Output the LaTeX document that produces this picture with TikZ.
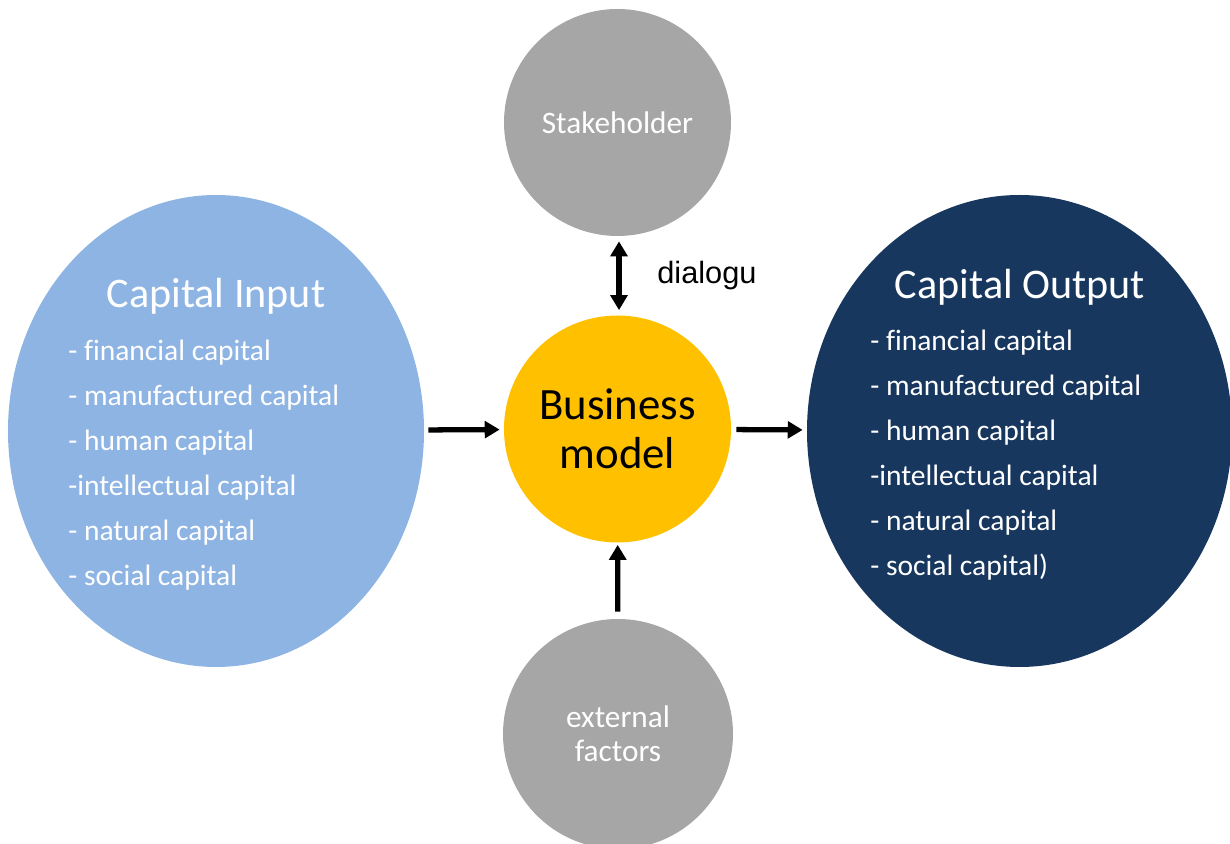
\documentclass[tikz,border=0pt]{standalone}
\usepackage{fontspec}
\setmainfont{Carlito}[Ligatures=NoCommon]
\newfontfamily\arialfont{Liberation Sans}
\usepackage{tikz}
\usetikzlibrary{shapes.geometric, arrows.meta, positioning}
\definecolor{inputblue}{HTML}{8EB4E3}
\definecolor{outputnavy}{HTML}{17375E}
\definecolor{modelyellow}{HTML}{FFC000}
\definecolor{sidegray}{HTML}{A6A6A6}

\tikzset{
  blob/.style={draw=none, inner sep=0pt, text=white, align=center},
  capline/.style={anchor=west, inner sep=0pt, text=white, font=\fontsize{16.8}{20}\selectfont},
  flow/.style={line width=3pt, -{Triangle[length=8.5pt, width=9.5pt]}},
}

\begin{document}
\begin{tikzpicture}
  \useasboundingbox (0,0) rectangle (24.6,16.86);

  % the four bubbles round the business model
  \node[blob, ellipse, fill=inputblue, minimum width=8.32cm, minimum height=9.44cm] (input) at (4.32,8.24) {};
  \node[blob, ellipse, fill=outputnavy, minimum width=8.5cm, minimum height=9.44cm] (output) at (20.39,8.24) {};
  \node[blob, circle, fill=sidegray, minimum size=4.54cm, font=\fontsize{17.8}{20}\selectfont] (stake) at (12.35,14.41) {Stakeholder};
  \node[blob, circle, fill=sidegray, minimum size=4.6cm, font=\fontsize{17.8}{19.3}\selectfont] (extern) at (12.36,2.18) {external\\factors};
  \node[blob, circle, fill=modelyellow, minimum size=4.54cm, text=black, font=\fontsize{25.5}{28}\selectfont] (model) at (12.35,8.28) {Business\\model};

  \node[inner sep=0pt, text=white, font=\fontsize{24}{28}\selectfont] (intitle) at (4.32,10.94) {Capital Input};
  \node[inner sep=0pt, text=white, font=\fontsize{24}{28}\selectfont] (outtitle) at (20.4,11.12) {Capital Output};

  % capital lists
  \foreach \i/\cap in {0/- financial capital, 1/- manufactured capital, 2/- human capital,
                       3/-intellectual capital, 4/- natural capital, 5/- social capital}{
    \node[capline] (in\i) at (1.36,9.81-0.9*\i) {\cap};
  }
  \foreach \i/\cap in {0/- financial capital, 1/- manufactured capital, 2/- human capital,
                       3/-intellectual capital, 4/- natural capital, 5/- social capital)}{
    \node[capline] (out\i) at (17.4,10.01-0.9*\i) {\cap};
  }

  % arrows
  \draw[flow, shorten <=0.08cm, shorten >=0.08cm] (input) -- (model);
  \draw[flow, shorten <=0.1cm, shorten >=0.08cm] (model) -- (output);
  \draw[flow, {Triangle[length=8.5pt, width=9.5pt]}-{Triangle[length=8.5pt, width=9.5pt]},
        shorten <=0.1cm, shorten >=0.1cm] ([xshift=0.03cm]stake.south) -- ([xshift=0.03cm]model.north);
  \draw[flow, shorten <=0.14cm, shorten >=0.04cm] (extern) -- (model);

  \node[anchor=west, inner sep=0pt, font=\arialfont\fontsize{17.5}{20}\selectfont] (dlg) at (13.14,11.34) {dialogu};
\end{tikzpicture}
\end{document}
